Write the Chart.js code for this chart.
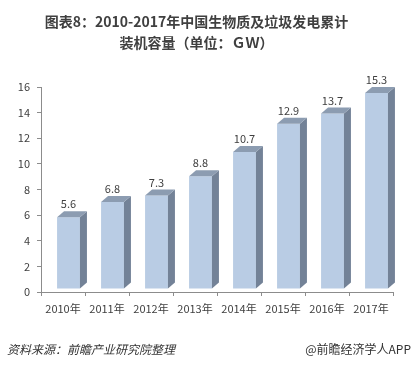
<!DOCTYPE html>
<html>
<head>
<meta charset="utf-8">
<script src="https://cdn.jsdelivr.net/npm/chart.js@4/dist/chart.umd.min.js"></script>
<style>
html, body {margin: 0; padding: 0; background: #fff;}
canvas {display: block;}
</style>
</head>
<body>
<canvas id="chart" width="419" height="366"></canvas>
<script>
const years = ["2010年", "2011年", "2012年", "2013年", "2014年", "2015年", "2016年", "2017年"];
const capacity = [5.6, 6.8, 7.3, 8.8, 10.7, 12.9, 13.7, 15.3];
const yRange = {min: 0, max: 16, step: 2};
const titleLines = ["图表8：2010-2017年中国生物质及垃圾发电累计", "装机容量（单位：ＧＷ）"];
const source = "资料来源：前瞻产业研究院整理";
const credit = "@前瞻经济学人APP";

const FONT = '"Noto Sans CJK SC", "Microsoft YaHei", sans-serif';
const TEXT = "#404040", AXIS = "#8c8c8c";
const shift = {x: 5.5, y: -3}; //Excel pushes 3D columns back off the axis a bit
const depth = {x: 7, y: -6};

//Draws the side and top faces of each column, plus the value labels
const bars3d = {
	id: "bars3d",
	beforeDatasetsDraw(chart) {
		chart.ctx.save();
		chart.ctx.translate(shift.x, shift.y);
	},
	afterDatasetsDraw(chart) {
		const ctx = chart.ctx;
		chart.getDatasetMeta(0).data.forEach((bar, i) => {
			const {x, y, base, width} = bar.getProps(["x", "y", "base", "width"], true);
			const l = x - width / 2, r = x + width / 2;
			ctx.fillStyle = "#738297";
			ctx.beginPath();
			ctx.moveTo(r, y); ctx.lineTo(r + depth.x, y + depth.y);
			ctx.lineTo(r + depth.x, base + depth.y); ctx.lineTo(r, base);
			ctx.closePath(); ctx.fill();
			ctx.fillStyle = "#8c9cb1";
			ctx.beginPath();
			ctx.moveTo(l, y); ctx.lineTo(l + depth.x, y + depth.y);
			ctx.lineTo(r + depth.x, y + depth.y); ctx.lineTo(r, y);
			ctx.closePath(); ctx.fill();
			ctx.fillStyle = TEXT;
			ctx.font = "11px " + FONT;
			ctx.textAlign = "center"; ctx.textBaseline = "middle";
			ctx.fillText(capacity[i].toFixed(1), x, y - 13);
		});
		ctx.restore();
	},
	afterDraw(chart) {
		const ctx = chart.ctx;
		ctx.save();
		ctx.fillStyle = "#333";
		ctx.textBaseline = "middle";
		ctx.font = "italic 12px " + FONT;
		ctx.textAlign = "left";
		ctx.fillText(source, 7, 349);
		ctx.font = "12px " + FONT;
		ctx.textAlign = "right";
		ctx.fillText(credit, 411, 349);
		ctx.restore();
	},
};

new Chart(document.getElementById("chart"), {
	type: "bar",
	data: {
		labels: years,
		datasets: [{
			data: capacity,
			backgroundColor: "#b9cce4",
			borderWidth: 0,
			categoryPercentage: 1,
			barPercentage: 0.52,
			clip: false,
		}],
	},
	options: {
		responsive: false,
		animation: false,
		layout: {padding: {left: 0, right: 26, top: 0, bottom: 0}},
		plugins: {
			legend: {display: false},
			tooltip: {enabled: false},
			title: {
				display: true,
				text: titleLines,
				color: TEXT,
				font: {family: FONT, size: 14, weight: "bold", lineHeight: 1.5},
				padding: {top: 11.5, bottom: 33.5},
			},
		},
		scales: {
			x: {
				grid: {display: true, drawOnChartArea: false, offset: true, tickLength: 4, color: AXIS},
				border: {color: AXIS},
				ticks: {color: TEXT, font: {family: FONT, size: 11}, padding: 6, maxRotation: 0},
				afterFit: scale => {scale.height = 74;},
			},
			y: {
				min: yRange.min, max: yRange.max,
				grid: {display: true, drawOnChartArea: false, tickLength: 4, color: AXIS},
				border: {color: AXIS},
				ticks: {stepSize: yRange.step, color: TEXT, font: {family: FONT, size: 11}, padding: 7},
				afterFit: scale => {scale.width = 41;},
			},
		},
	},
	plugins: [bars3d],
});
</script>
</body>
</html>
